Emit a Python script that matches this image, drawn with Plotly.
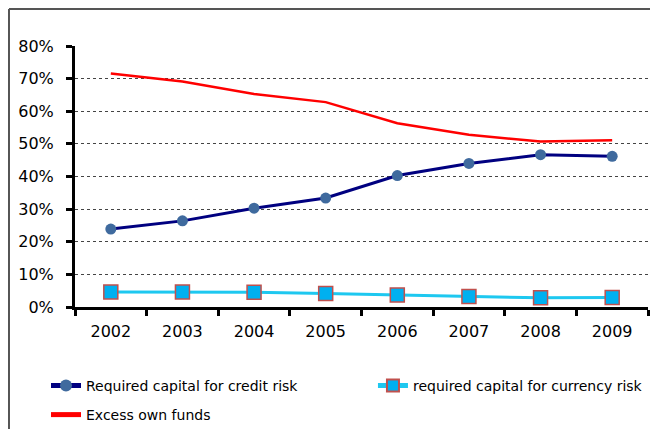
import plotly.graph_objects as go

# veriler
years = ["2002", "2003", "2004", "2005", "2006", "2007", "2008", "2009"]
credit_risk = [0.239, 0.264, 0.303, 0.334, 0.403, 0.440, 0.467, 0.462]
currency_risk = [0.046, 0.046, 0.045, 0.041, 0.037, 0.032, 0.028, 0.029]
excess_funds = [0.716, 0.691, 0.653, 0.628, 0.563, 0.528, 0.507, 0.511]
y_ticks = [0, 0.1, 0.2, 0.3, 0.4, 0.5, 0.6, 0.7, 0.8]

fig = go.Figure()

fig.add_trace(go.Scatter(
    x=years, y=excess_funds, mode="lines",
    name="Excess own funds",
    line=dict(color="#FF0000", width=2.5),
    legend="legend3", showlegend=True
))

fig.add_trace(go.Scatter(
    x=years, y=credit_risk, mode="lines+markers",
    name="Required capital for credit risk",
    line=dict(color="#000080", width=3),
    marker=dict(symbol="circle", size=11, color="#3F6A9E"),
    legend="legend", showlegend=True
))

fig.add_trace(go.Scatter(
    x=years, y=currency_risk, mode="lines+markers",
    name="required capital for currency risk",
    line=dict(color="#1EC8F0", width=3),
    marker=dict(symbol="square", size=14, color="#00B0F0",
                line=dict(color="#C0504D", width=1.5)),
    legend="legend2", showlegend=True
))

# çerçeve (sol ve üst kenar)
fig.add_shape(type="line", xref="paper", yref="paper",
              x0=-0.1152, x1=-0.1152, y0=1.1418, y1=-0.48,
              line=dict(color="#555555", width=2))
fig.add_shape(type="line", xref="paper", yref="paper",
              x0=-0.1152, x1=1.03, y0=1.1418, y1=1.1418,
              line=dict(color="#555555", width=2))

legend_style = dict(
    orientation="h", xanchor="left", yanchor="top",
    font=dict(family="DejaVu Sans", size=14),
    itemsizing="constant", bgcolor="rgba(0,0,0,0)",
)

# sayfa gövdesinin 8px kenar boşluğu için boyut 650x421
fig.update_layout(
    width=650, height=421,
    margin=dict(l=67, r=10, t=38, b=122, autoexpand=False),
    paper_bgcolor="white", plot_bgcolor="white",
    showlegend=True,
    font=dict(family="DejaVu Sans", size=16, color="black"),
    legend=dict(legend_style, x=-0.0506, y=-0.241),
    legend2=dict(legend_style, x=0.520, y=-0.241),
    legend3=dict(legend_style, x=-0.0506, y=-0.3525),
)

fig.update_xaxes(
    type="category", range=[-0.5, 7.5],
    showline=True, linecolor="black", linewidth=3,
    ticks="outside", tickson="boundaries", ticklen=6, tickwidth=3, tickcolor="black",
    showgrid=False, ticklabelstandoff=8,
)

fig.update_yaxes(
    range=[0, 0.8], tickvals=y_ticks, tickformat=".0%",
    showline=True, linecolor="black", linewidth=3,
    ticks="outside", ticklen=6, tickwidth=3, tickcolor="black",
    showgrid=True, gridcolor="#444444", gridwidth=1, griddash="dot",
    zeroline=False, ticklabelstandoff=9,
)

fig.write_html("out.html")
